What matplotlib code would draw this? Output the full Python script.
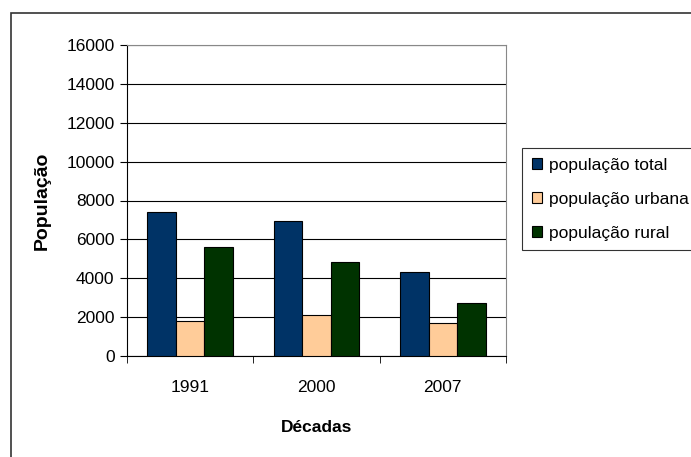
import numpy as np
import matplotlib.pyplot as plt
from matplotlib.patches import Rectangle

plt.rcParams['font.family'] = ['Liberation Sans', 'DejaVu Sans']

decadas = ['1991', '2000', '2007']
series = ['população total', 'população urbana', 'população rural']
pop_total = [7400, 6970, 4340]
pop_urbana = [1780, 2120, 1690]
pop_rural = [5630, 4850, 2740]
cores = ['#003366', '#FFCC99', '#003300']

W, H = 691, 457
fig = plt.figure(figsize=(W / 100, H / 100), dpi=100)
ax = fig.add_axes([127 / W, 1 - 356 / H, (506 - 127) / W, (356 - 45) / H])

# moldura externa (cortada à direita e em baixo)
fig.patches.append(Rectangle((11 / W, -0.1), 1.1, 1 - 13 / H + 0.1,
                             transform=fig.transFigure, fill=False,
                             edgecolor='#333333', linewidth=1.2))

x = np.arange(len(decadas))
w = 0.226
for i, (vals, cor, nome) in enumerate(zip([pop_total, pop_urbana, pop_rural], cores, series)):
    ax.bar(x + (i - 1) * w, vals, w, color=cor, edgecolor='black', linewidth=0.8,
           label=nome, zorder=3)

ax.set_xlim(-0.5, 2.5)
ax.set_ylim(0, 16000)
ax.set_yticks(range(0, 16001, 2000))
ax.set_xticks(x)
ax.set_xticklabels(decadas)
ax.set_xticks([-0.5, 0.5, 1.5, 2.5], minor=True)
ax.tick_params(axis='x', which='major', length=0, pad=17, labelsize=12.5)
ax.tick_params(axis='x', which='minor', length=5, direction='out', color='black')
ax.tick_params(axis='y', length=5, direction='out', labelsize=12.5, pad=4)
ax.yaxis.grid(True, color='black', linewidth=0.8, zorder=0)

for s in ['top', 'right']:
    ax.spines[s].set_color('#888888')
ax.spines['left'].set_color('black')
ax.spines['bottom'].set_color('black')

ax.set_xlabel('Décadas', fontsize=12.5, fontweight='bold', labelpad=18)
ax.set_ylabel('População', fontsize=14, fontweight='bold', labelpad=11)

leg = ax.legend(loc='upper left', bbox_to_anchor=(522 / W, 1 - 148 / H),
                bbox_transform=fig.transFigure, frameon=True, fancybox=False,
                edgecolor='black', fontsize=12.5, handlelength=0.6, handleheight=0.6,
                handletextpad=0.4, labelspacing=1.1, borderpad=0.55, borderaxespad=0)
leg.get_frame().set_linewidth(0.8)

fig.savefig('out.png', dpi=100)
